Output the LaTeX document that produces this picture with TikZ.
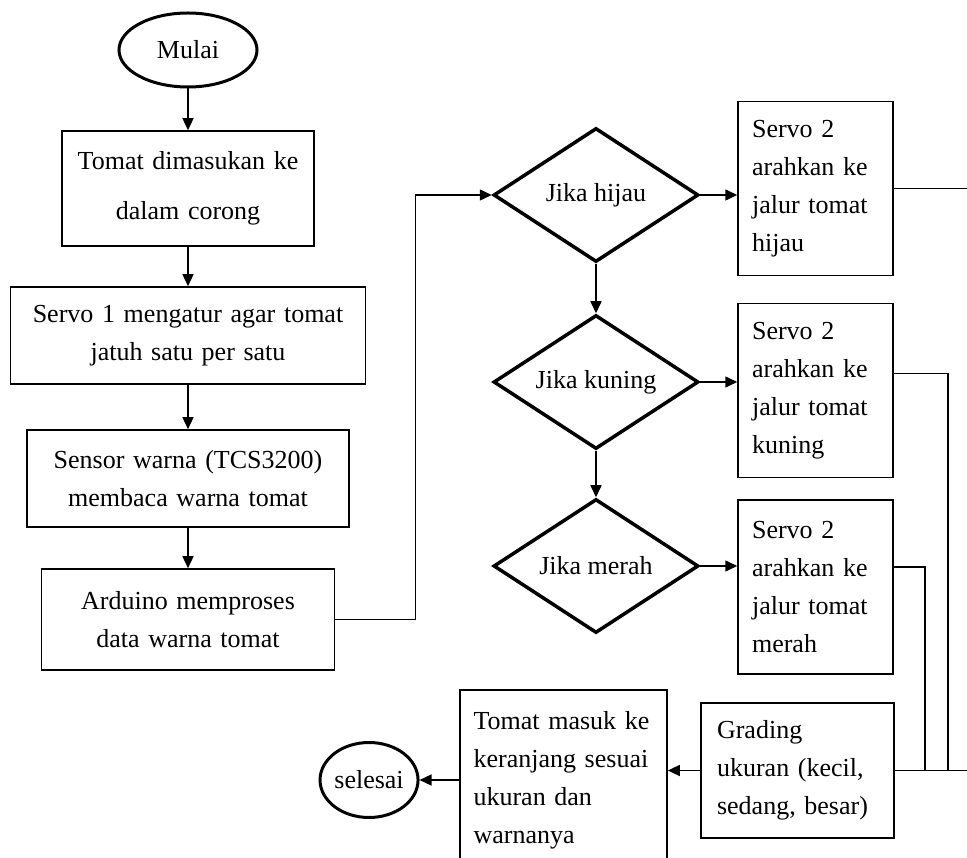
\documentclass[tikz,border=0pt]{standalone}
\usepackage{fontspec}
\setmainfont{Liberation Serif}
\usepackage{tikz}
\usetikzlibrary{arrows.meta,positioning,shapes.geometric}
\tikzstyle{terminal}=[ellipse,draw,line width=3pt,inner sep=0pt]
\tikzstyle{kotak}=[rectangle,draw,line width=1.6pt,align=center,inner xsep=8pt]
\tikzstyle{kotakkiri}=[rectangle,draw,line width=1.6pt,align=left]
\tikzstyle{servo}=[kotakkiri,text width=127pt,inner xsep=14pt,minimum height=174pt]
\tikzstyle{cek}=[diamond,draw,line width=3.5pt,aspect=1.53,minimum width=205pt,minimum height=134pt,inner sep=0pt]
\tikzstyle{alur}=[line width=1.5pt,-{Triangle[length=12pt,width=11pt]}]
\tikzstyle{garis}=[line width=1.5pt]

\begin{document}
\begin{tikzpicture}[x=1pt,y=1pt,font=\fontsize{26}{38}\selectfont]
          \useasboundingbox (0,0) rectangle (967,-858);
          \clip (0,0) rectangle (967,-858);

          \node[terminal,minimum width=138pt,minimum height=74pt] (mulai) at (188,-50) {Mulai};

          \node[kotak,text width=236pt,minimum height=115pt,font=\fontsize{26}{50}\selectfont] (masuk) [below=41.7pt of mulai] {Tomat dimasukan ke\\dalam corong};
          \path[alur]   (mulai) edge (masuk);

          \node[kotak,text width=339pt,minimum height=97pt] (servo1) [below=39.4pt of masuk] {Servo 1 mengatur agar tomat\\jatuh satu per satu};
          \path[alur]   (masuk) edge (servo1);

          \node[kotak,text width=306pt,minimum height=97pt] (sensor) [below=44.4pt of servo1] {Sensor warna (TCS3200)\\membaca warna tomat};
          \path[alur]   (servo1) edge (sensor);

          \node[kotak,text width=277pt,minimum height=101pt] (arduino) [below=40.4pt of sensor] {Arduino memproses\\data warna tomat};
          \path[alur]   (sensor) edge (arduino);

          \node[cek] (hijau) at (596,-195) {Jika hijau};
          \draw[alur]   (arduino.east) -- ++(80,0) |- (hijau.west);

          \node[cek] (kuning) [below=49.5pt of hijau] {Jika kuning};
          \path[alur]   (hijau) edge (kuning);

          \node[cek] (merah) [below=46.5pt of kuning] {Jika merah};
          \path[alur]   (kuning) edge (merah);

          \node[servo] (servoH) [right=37pt of hijau,yshift=6.5pt] {Servo 2\\arahkan ke\\jalur tomat\\hijau};
          \draw[alur]   (hijau.east) -- (hijau.east -| servoH.west);

          \node[servo] (servoK) [right=37pt of kuning,yshift=-8.5pt] {Servo 2\\arahkan ke\\jalur tomat\\kuning};
          \draw[alur]   (kuning.east) -- (kuning.east -| servoK.west);

          \node[servo] (servoM) [right=37pt of merah,yshift=-21pt] {Servo 2\\arahkan ke\\jalur tomat\\merah};
          \draw[alur]   (merah.east) -- (merah.east -| servoM.west);

          \node[kotakkiri,text width=161pt,inner xsep=16pt,minimum height=135pt] (grading) [below=27.4pt of servoM,xshift=-18pt] {Grading\\ukuran (kecil,\\sedang, besar)};
          \draw[garis]  (servoH.east) -- ++(85,0) |- (grading.east);
          \draw[garis]  ([yshift=17pt]servoK.east) -- ++(54,0) |- (grading.east);
          \draw[garis]  ([yshift=20pt]servoM.east) -- ++(31,0) |- (grading.east);

          \node[kotakkiri,text width=180pt,inner xsep=13.5pt,minimum height=180pt] (keranjang) [left=32.4pt of grading,yshift=-9.5pt] {Tomat masuk ke\\keranjang sesuai\\ukuran dan\\warnanya};
          \draw[alur]   (grading.west) -- (grading.west -| keranjang.east);

          \node[terminal,minimum width=96pt,minimum height=75pt] (selesai) [left=39.7pt of keranjang] {selesai};
          \path[alur]   (keranjang) edge (selesai);
        \end{tikzpicture}
\end{document}
